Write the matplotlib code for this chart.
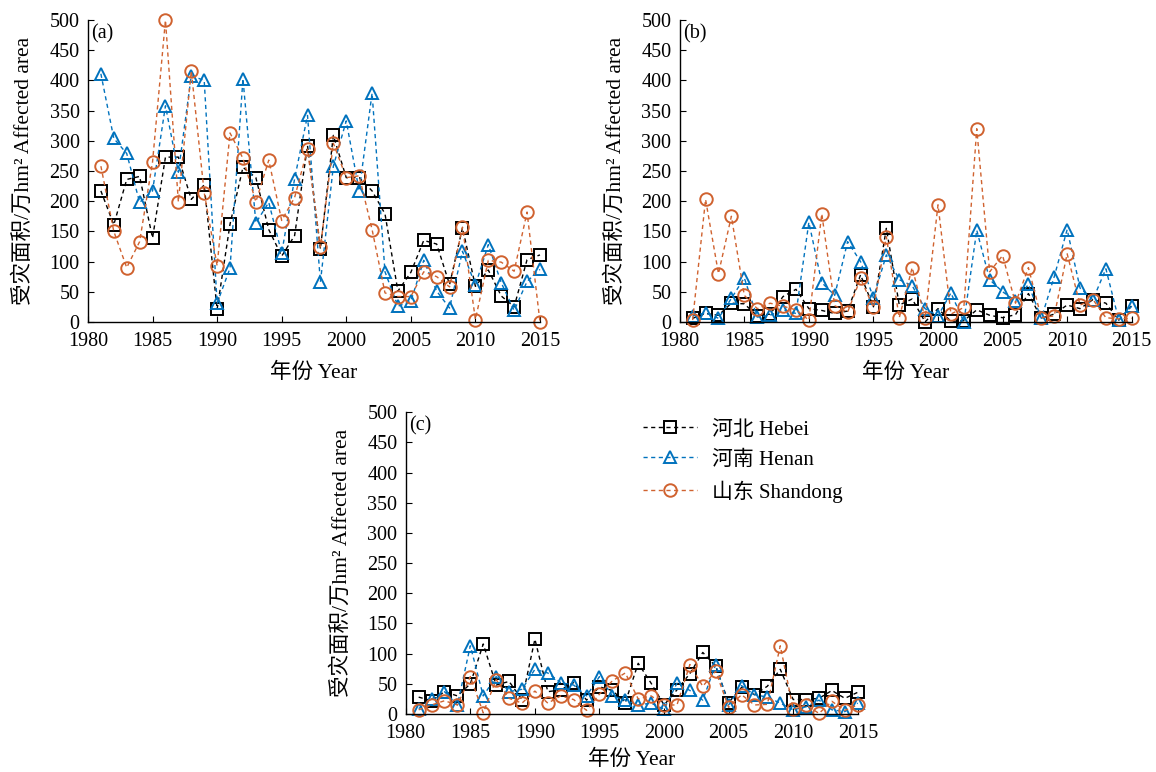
import numpy as np
import matplotlib
matplotlib.use("Agg")
import matplotlib.pyplot as plt

# 年份
years = list(range(1981, 2016))

# (a) 河北、河南、山东 受灾面积
hebei_a = [217, 161, 236, 241, 139, 273, 273, 203, 227, 21, 162, 256, 239, 153, 109, 143, 292, 121,
           309, 239, 239, 217, 179, 51, 82, 135, 129, 62, 156, 59, 86, 43, 25, 103, 111]
henan_a = [411, 304, 279, 198, 217, 358, 248, 408, 400, 31, 89, 403, 164, 198, 114, 237, 342, 66,
           258, 333, 217, 379, 83, 26, 34, 102, 51, 23, 117, 61, 128, 65, 19, 67, 87]
shandong_a = [258, 150, 90, 133, 265, 500, 199, 416, 214, 93, 313, 271, 199, 268, 168, 206, 286, 124,
              296, 239, 242, 153, 48, 42, 42, 83, 75, 58, 157, 4, 102, 99, 84, 182, 0]

# (b)
hebei_b = [6, 14, 11, 31, 30, 10, 13, 42, 54, 22, 19, 14, 18, 78, 25, 155, 28, 38,
           0, 22, 1, 2, 20, 11, 7, 12, 47, 6, 13, 28, 22, 37, 31, 3, 27]
henan_b = [10, 15, 6, 39, 73, 8, 11, 20, 14, 165, 65, 44, 133, 100, 40, 111, 70, 60,
           22, 10, 48, 0, 152, 70, 50, 35, 62, 6, 75, 153, 56, 37, 88, 3, 26]
shandong_b = [3, 203, 80, 175, 44, 22, 31, 26, 20, 3, 179, 27, 16, 72, 24, 141, 7, 90,
              6, 194, 13, 24, 320, 83, 110, 31, 90, 7, 10, 113, 28, 37, 7, 5, 6]

# (c)
hebei_c = [28, 22, 37, 30, 50, 116, 48, 54, 24, 124, 37, 40, 52, 23, 45, 39, 19, 84,
           51, 15, 40, 67, 102, 79, 19, 44, 32, 46, 74, 24, 24, 26, 39, 26, 36]
henan_c = [9, 25, 37, 15, 113, 30, 62, 37, 41, 74, 68, 52, 48, 30, 62, 30, 23, 15,
           18, 8, 51, 39, 23, 82, 15, 47, 32, 28, 18, 7, 12, 23, 7, 4, 18]
shandong_c = [7, 15, 22, 15, 62, 2, 57, 26, 18, 38, 18, 30, 24, 6, 33, 55, 68, 25,
              30, 15, 15, 82, 46, 71, 11, 32, 15, 16, 113, 8, 15, 1, 21, 6, 15]

names = ["河北 Hebei", "河南 Henan", "山东 Shandong"]
colors = ["black", "#0072BD", "#D0622F"]
markers = ["s", "^", "o"]

plt.rcParams["font.family"] = ["Liberation Serif", "Noto Sans CJK SC"]
plt.rcParams["font.size"] = 14
plt.rcParams["axes.unicode_minus"] = False

fig = plt.figure(figsize=(11.56, 7.72), dpi=100)

# 标签, 位置, 数据, x轴标签间距
panels = [
    ("(a)", [0.0761, 0.583, 0.391, 0.391], [hebei_a, henan_a, shandong_a], 9),
    ("(b)", [0.588, 0.583, 0.391, 0.391], [hebei_b, henan_b, shandong_b], 9),
    ("(c)", [0.351, 0.0751, 0.391, 0.391], [hebei_c, henan_c, shandong_c], 5),
]

lines = []
for tag, rect, series, xpad in panels:
    ax = fig.add_axes(rect)
    lines = []
    for vals, c, m, name in zip(series, colors, markers, names):
        ln, = ax.plot(years, vals, linestyle=(0, (3, 2.5)), color=c, linewidth=1.0,
                      marker=m, markersize=9, markerfacecolor="none",
                      markeredgecolor=c, markeredgewidth=1.4, label=name)
        ln.set_clip_on(False)
        lines.append(ln)
    ax.set_xlim(1980, 2015)
    ax.set_ylim(0, 500)
    ax.set_xticks(np.arange(1980, 2016, 5))
    ax.set_yticks(np.arange(0, 501, 50))
    ax.spines["top"].set_visible(False)
    ax.spines["right"].set_visible(False)
    ax.tick_params(direction="in", length=4, labelsize=14.5)
    ax.tick_params(axis="y", pad=6)
    ax.tick_params(axis="x", pad=7)
    ax.set_xlabel("年份 Year", fontsize=15.5, labelpad=xpad)
    ax.set_ylabel("受灾面积/万hm² Affected area", fontsize=15.5, labelpad=11)
    ax.text(0.008, 0.985, tag, transform=ax.transAxes, ha="left", va="top", fontsize=14.5)
    for sp in ax.spines.values():
        sp.set_linewidth(1.0)

fig.legend(handles=lines, loc="upper left", bbox_to_anchor=(0.540, 0.48),
           frameon=False, fontsize=15, handlelength=2.6, labelspacing=0.5,
           handletextpad=0.7)

fig.savefig("out.png", dpi=100)
